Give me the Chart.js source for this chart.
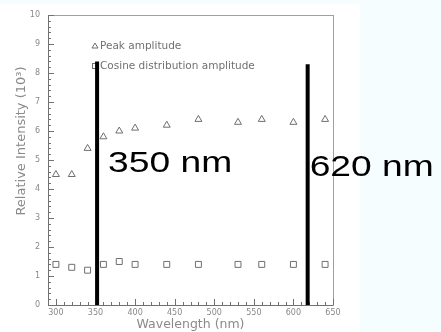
<!DOCTYPE html>
<html>
<head>
<meta charset="utf-8">
<script src="https://cdn.jsdelivr.net/npm/chart.js@4.4.1/dist/chart.umd.min.js"></script>
<style>
  html, body { margin: 0; padding: 0; background: #f6fdfe; }
  #wrap { width: 441px; height: 332px; }
</style>
</head>
<body>
<div id="wrap"><canvas id="spectrum" width="441" height="332"></canvas></div>
<script>
// wavelength (nm) of each measurement
const wavelengths = [300, 320, 340, 360, 380, 400, 440, 480, 530, 560, 600, 640];
// relative intensity, units of 10^3
const peakAmplitude = [4.5, 4.5, 5.4, 5.8, 6.0, 6.1, 6.2, 6.4, 6.3, 6.4, 6.3, 6.4];
const cosineAmplitude = [1.4, 1.3, 1.2, 1.4, 1.5, 1.4, 1.4, 1.4, 1.4, 1.4, 1.4, 1.4];
// hand-drawn cut markers
const cutLines = [352, 618];
const cutTops = [8.4, 8.3];
const cutLabels = ['350 nm', '620 nm'];
const xTicks = [300, 350, 400, 450, 500, 550, 600, 650];
const yTicks = [0, 1, 2, 3, 4, 5, 6, 7, 8, 9, 10];

const grey = '#6f6f6f';

const datasets = [{
  label: 'Peak amplitude',
  data: wavelengths.map((w, i) => ({ x: w, y: peakAmplitude[i] })),
  pointStyle: 'triangle',
  pointRadius: 4,
  borderColor: grey,
  backgroundColor: 'rgba(0,0,0,0)',
  borderWidth: 1,
  showLine: false
}, {
  label: 'Cosine distribution amplitude',
  data: wavelengths.map((w, i) => ({ x: w, y: cosineAmplitude[i] })),
  pointStyle: 'rect',
  pointRadius: 4.2,
  borderColor: grey,
  backgroundColor: 'rgba(0,0,0,0)',
  borderWidth: 1,
  showLine: false
}];

cutLines.forEach((w, i) => {
  datasets.push({
    type: 'line',
    label: cutLabels[i],
    data: [{ x: w, y: 0 }, { x: w, y: cutTops[i] }],
    borderColor: '#000',
    borderWidth: 4,
    pointRadius: 0,
    borderCapStyle: 'butt'
  });
});

// white paper, box, inward ticks, legend, big labels
const paper = {
  id: 'paper',
  beforeDraw(chart) {
    const ctx = chart.ctx;
    ctx.save();
    ctx.fillStyle = '#fff';
    ctx.fillRect(0, 4, 360, chart.height - 4);
    ctx.restore();
  },
  beforeDatasetsDraw(chart) {
    const { ctx, chartArea: a, scales: { x, y } } = chart;
    ctx.save();
    ctx.lineWidth = 1;
    ctx.strokeStyle = '#a0a0a0';
    ctx.strokeRect(a.left + 0.5, a.top + 0.5, a.right - a.left, a.bottom - a.top);
    ctx.strokeStyle = '#707070';
    ctx.beginPath();
    ctx.moveTo(a.left + 0.5, a.top);
    ctx.lineTo(a.left + 0.5, a.bottom + 0.5);
    ctx.lineTo(a.right, a.bottom + 0.5);
    ctx.stroke();

    ctx.beginPath();
    for (let v = 0; v <= 100; v += 2) {
      const py = Math.round(y.getPixelForValue(v / 10)) + 0.5;
      const len = v % 10 === 0 ? 6 : 3;
      ctx.moveTo(a.left, py);
      ctx.lineTo(a.left + len, py);
    }
    for (let w = 290; w <= 650; w += 10) {
      const px = Math.round(x.getPixelForValue(w)) + 0.5;
      const len = w % 50 === 0 ? 6 : 3;
      ctx.moveTo(px, a.bottom);
      ctx.lineTo(px, a.bottom - len);
    }
    ctx.stroke();

    // legend
    ctx.font = '10.5px "DejaVu Sans"';
    ctx.fillStyle = '#707070';
    ctx.textBaseline = 'middle';
    ctx.strokeStyle = grey;
    const lx = 95;
    const rows = [46, 66];
    ctx.beginPath();
    ctx.moveTo(lx, rows[0] - 3);
    ctx.lineTo(lx + 3, rows[0] + 2);
    ctx.lineTo(lx - 3, rows[0] + 2);
    ctx.closePath();
    ctx.stroke();
    ctx.strokeRect(lx - 2.5, rows[1] - 2.5, 5, 5);
    ctx.fillText(datasets[0].label, lx + 5, rows[0]);
    ctx.fillText(datasets[1].label, lx + 5, rows[1]);

    // y title
    ctx.save();
    ctx.translate(22, 141);
    ctx.rotate(-Math.PI / 2);
    ctx.textAlign = 'center';
    ctx.fillStyle = '#8a8a8a';
    ctx.font = '13px "DejaVu Sans"';
    ctx.fillText('Relative Intensity (10³)', 0, 0);
    ctx.restore();
    ctx.restore();
  },
  afterDraw(chart) {
    const { ctx, scales: { x } } = chart;
    const offsets = [11, 2];
    const bases = [172, 176];
    ctx.save();
    ctx.fillStyle = '#000';
    ctx.font = '30px "Liberation Sans", Arial, sans-serif';
    ctx.textBaseline = 'alphabetic';
    cutLines.forEach((w, i) => {
      const px = x.getPixelForValue(w) + offsets[i];
      ctx.save();
      ctx.translate(px, bases[i]);
      ctx.scale(1.24, 1);
      ctx.fillText(cutLabels[i], 0, 0);
      ctx.restore();
    });
    ctx.restore();
  }
};

new Chart(document.getElementById('spectrum'), {
  type: 'scatter',
  data: { datasets },
  options: {
    responsive: false,
    devicePixelRatio: 1,
    animation: false,
    layout: { padding: { top: 15, right: 108, left: 0, bottom: 0 } },
    plugins: {
      legend: { display: false },
      tooltip: { enabled: false }
    },
    scales: {
      x: {
        type: 'linear',
        min: 290,
        max: 650,
        grid: { display: false, drawTicks: false },
        border: { display: false },
        afterBuildTicks: (s) => { s.ticks = xTicks.map(v => ({ value: v })); },
        afterFit: (s) => { s.height = 27; },
        ticks: {
          padding: 3,
          color: '#888',
          font: { family: 'DejaVu Sans', size: 8 },
          maxRotation: 0
        },
        title: {
          display: true,
          text: 'Wavelength (nm)',
          color: '#8a8a8a',
          font: { family: 'DejaVu Sans', size: 12.5 },
          padding: { top: 0, bottom: 0 }
        }
      },
      y: {
        type: 'linear',
        min: 0,
        max: 10,
        grid: { display: false, drawTicks: false },
        border: { display: false },
        afterBuildTicks: (s) => { s.ticks = yTicks.map(v => ({ value: v })); },
        afterFit: (s) => { s.width = 48; },
        ticks: {
          padding: 8,
          color: '#888',
          font: { family: 'DejaVu Sans', size: 8 }
        }
      }
    }
  },
  plugins: [paper]
});
</script>
</body>
</html>
